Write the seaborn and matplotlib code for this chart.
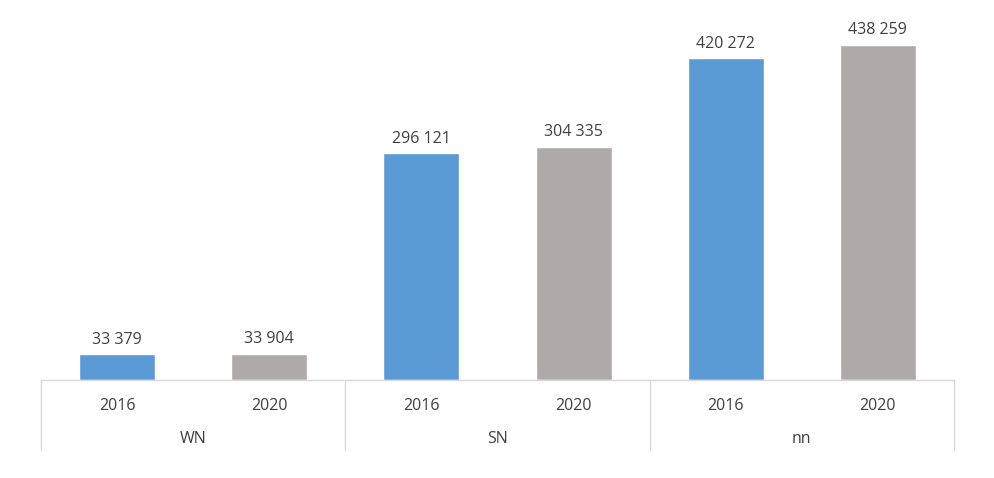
import matplotlib
matplotlib.use("Agg")
import matplotlib.pyplot as plt
import matplotlib.transforms as mtransforms
import seaborn as sns
import pandas as pd

groups = ["WN", "SN", "nn"]
years = ["2016", "2020"]
values_2016 = [33379, 296121, 420272]
values_2020 = [33904, 304335, 438259]
labels_2016 = ["33 379", "296 121", "420 272"]
labels_2020 = ["33 904", "304 335", "438 259"]

colors = {"2016": "#5B9BD5", "2020": "#AEAAAA"}

rows = []
for i, g in enumerate(groups):
    rows.append({"slot": f"{g}-2016", "group": g, "year": "2016", "value": values_2016[i], "label": labels_2016[i]})
    rows.append({"slot": f"{g}-2020", "group": g, "year": "2020", "value": values_2020[i], "label": labels_2020[i]})
df = pd.DataFrame(rows)

sns.set_style("white")
plt.rcParams["font.family"] = ["Open Sans", "DejaVu Sans"]
text_color = "#404040"
line_color = "#D9D9D9"
fs = 11.5

fig = plt.figure(figsize=(9.94, 4.78), dpi=100)
ax = fig.add_axes([41/994, 1 - 380/478, (954-41)/994, 370/478])

sns.barplot(data=df, x="slot", y="value", hue="year", palette=colors,
            dodge=False, width=0.5, ax=ax, legend=False, saturation=1)

ax.set_ylim(0, 370 / (335.3 / 438259))
ax.set_xlim(-0.5, len(df) - 0.5)

for idx, r in df.iterrows():
    ax.annotate(r["label"], (idx, r["value"]), xytext=(0, 5), textcoords="offset points",
                ha="center", va="bottom", fontsize=fs, color=text_color)

ax.set_yticks([])
ax.set_xticks(range(len(df)))
ax.set_xticklabels(df["year"], fontsize=fs, color=text_color)
ax.tick_params(axis="x", length=0, pad=13)
ax.set_xlabel("")
ax.set_ylabel("")
for s in ["top", "left", "right"]:
    ax.spines[s].set_visible(False)
ax.spines["bottom"].set_color(line_color)
ax.spines["bottom"].set_linewidth(1)

trans = mtransforms.blended_transform_factory(ax.transData, fig.transFigure)
bottom = 1 - 450/478
base = 1 - 380/478
for b in [-0.5, 1.5, 3.5, 5.5]:
    ax.plot([b, b], [bottom, base], transform=trans, color=line_color, lw=1, clip_on=False)

for i, g in enumerate(groups):
    ax.text(2*i + 0.5, 1 - 439/478, g, transform=trans, ha="center", va="center",
            fontsize=fs, color=text_color)

fig.savefig("out.png", dpi=100)
